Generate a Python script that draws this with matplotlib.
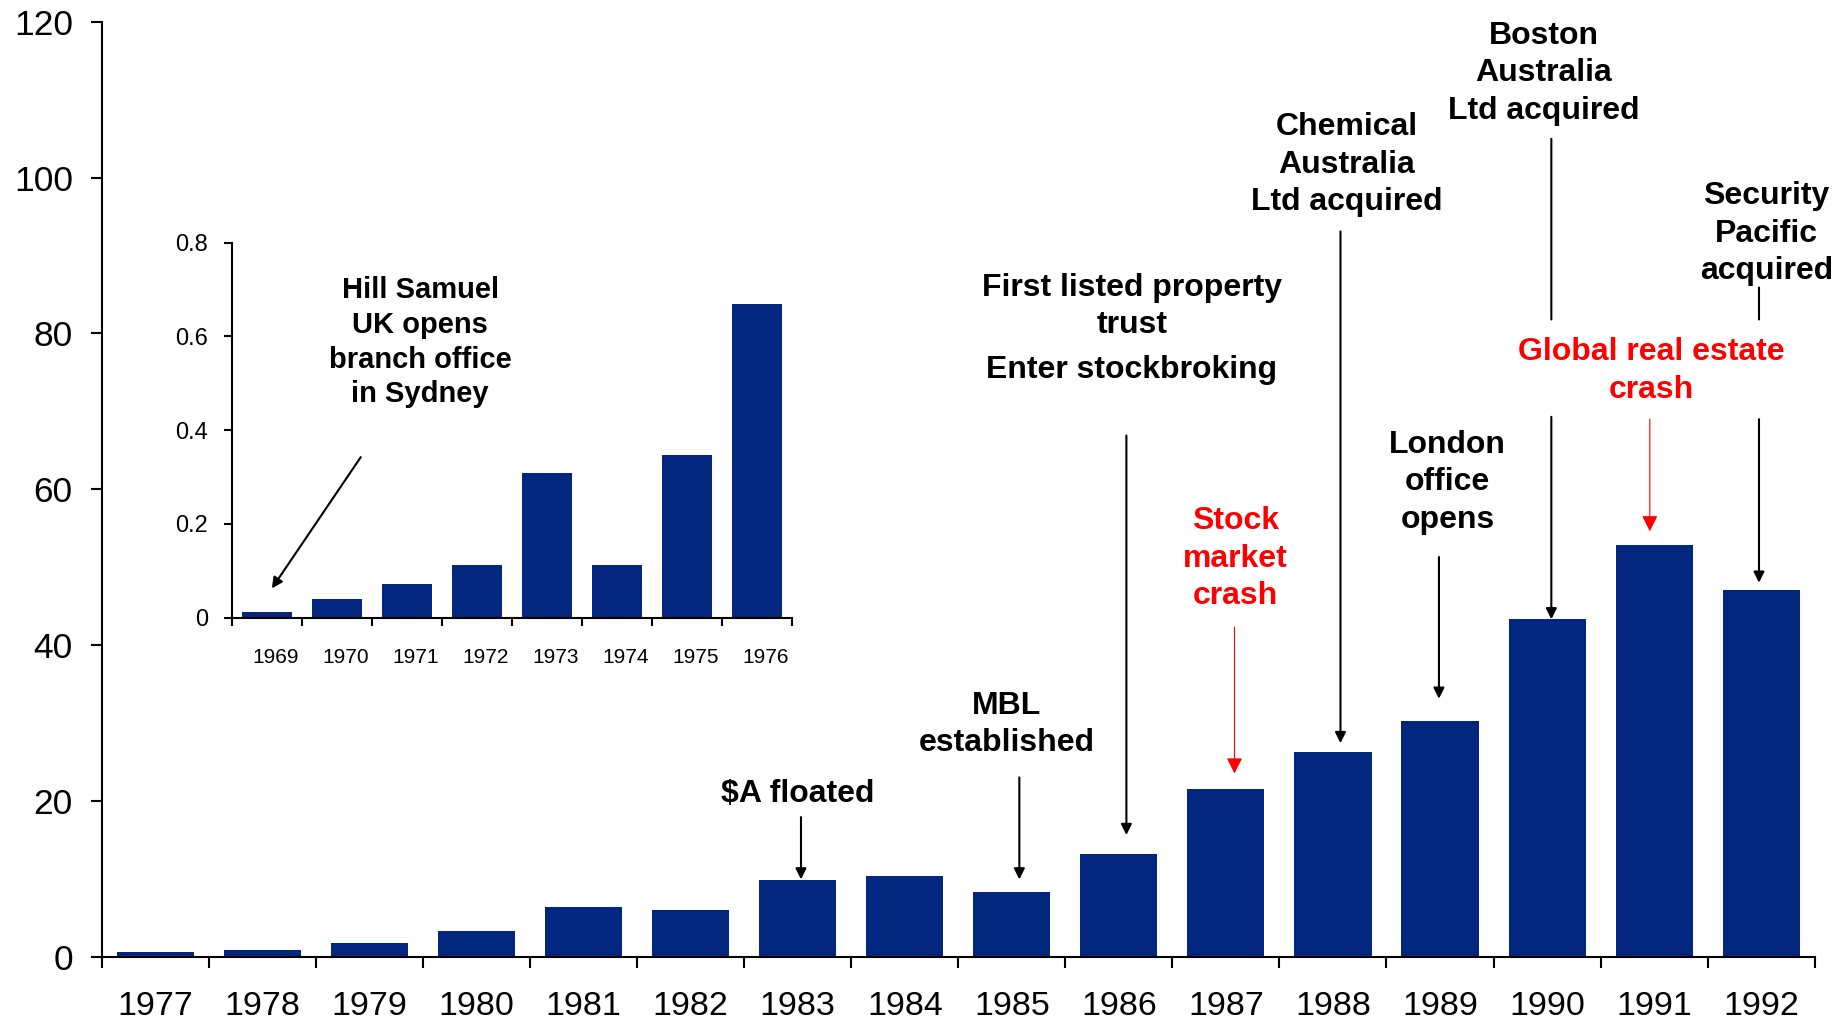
import numpy as np
import matplotlib
matplotlib.use('Agg')
import matplotlib.pyplot as plt
from matplotlib.ticker import FixedLocator, FuncFormatter

plt.rcParams['font.family'] = ['Liberation Sans', 'DejaVu Sans']

# ── Data ──────────────────────────────────────────────────────────────────────
years = ['1977', '1978', '1979', '1980', '1981', '1982', '1983', '1984',
         '1985', '1986', '1987', '1988', '1989', '1990', '1991', '1992']
values = [0.6, 0.9, 1.7, 3.3, 6.3, 6.0, 9.8, 10.4,
          8.3, 13.1, 21.5, 26.2, 30.2, 43.3, 52.8, 47.1]

inset_years = ['1969', '1970', '1971', '1972', '1973', '1974', '1975', '1976']
inset_values = [0.012, 0.04, 0.072, 0.112, 0.308, 0.112, 0.348, 0.67]

main_yticks = [0, 20, 40, 60, 80, 100, 120]
inset_yticks = [0, 0.2, 0.4, 0.6, 0.8]

BAR = '#03277E'
RED = '#FF0000'


def style_axes(ax, n, tick_len, xpad, ypad, xsize, ysize, label_shift=0.0):
    for side in ('top', 'right'):
        ax.spines[side].set_visible(False)
    for side in ('left', 'bottom'):
        ax.spines[side].set_linewidth(1.5)
        ax.spines[side].set_color('black')
    ax.set_xlim(-0.5, n - 0.5)
    # tick marks at category boundaries, labels (minor, no mark) at bar centres
    ax.xaxis.set_major_locator(FixedLocator(np.arange(n + 1) - 0.5))
    ax.xaxis.set_major_formatter(FuncFormatter(lambda v, p: ''))
    ax.xaxis.set_minor_locator(FixedLocator(np.arange(n) + label_shift))
    ax.tick_params(axis='x', which='major', direction='out', length=tick_len,
                   width=1.5, color='black')
    ax.tick_params(axis='x', which='minor', length=0, pad=xpad, labelsize=xsize)
    ax.tick_params(axis='y', direction='out', length=tick_len, width=1.5,
                   pad=ypad, labelsize=ysize)


# ── Figure ────────────────────────────────────────────────────────────────────
fig = plt.figure(figsize=(18.38, 10.18), dpi=100)
ax = fig.add_axes([0.0555, 0.0604, 0.9318, 0.918])

x = np.arange(len(years))
ax.bar(x, values, width=0.72, color=BAR, zorder=2)
style_axes(ax, len(years), 8, 24.5, 13, 24.5, 25.5)
ax.set_xticks(x, years, minor=True)
ax.set_ylim(0, 120)
ax.set_yticks(main_yticks)
ax.yaxis.set_major_formatter(FuncFormatter(lambda v, p: f'{v:g}'))

# ── Annotations on the main chart ────────────────────────────────────────────
txt = dict(ha='center', va='center', fontsize=23, fontweight='bold',
           linespacing=1.32, clip_on=False, zorder=3)
blk = dict(arrowstyle='-|>', color='black', lw=1.5, mutation_scale=16,
           shrinkA=0, shrinkB=0)
red = dict(arrowstyle='-|>', color=RED, lw=0.8, mutation_scale=24,
           shrinkA=0, shrinkB=0)
plain = dict(arrowstyle='-', color='black', lw=1.5, shrinkA=0, shrinkB=0)


def arrow(x0, y0, y1, props):
    ax.annotate('', xy=(x0, y1), xytext=(x0, y0), arrowprops=props,
                annotation_clip=False)


ax.text(6.0, 20.9, '$A floated', **txt)
arrow(6.03, 17.9, 9.9, blk)

ax.text(7.95, 29.8, 'MBL\nestablished', **txt)
arrow(8.07, 23.0, 9.9, blk)

ax.text(9.12, 83.5, 'First listed property\ntrust', **txt)
ax.text(9.12, 75.3, 'Enter stockbroking', **txt)
arrow(9.07, 66.9, 15.6, blk)

ax.text(10.09, 51.1, 'Stock\nmarket\ncrash', color=RED, **txt)
arrow(10.08, 42.3, 23.5, red)

ax.text(11.13, 101.7, 'Chemical\nAustralia\nLtd acquired', **txt)
arrow(11.07, 93.1, 27.4, blk)

ax.text(12.07, 60.9, 'London\noffice\nopens', **txt)
arrow(11.99, 51.3, 33.1, blk)

ax.text(12.97, 113.4, 'Boston\nAustralia\nLtd acquired', **txt)
arrow(13.04, 105.0, 81.8, plain)
arrow(13.04, 69.3, 43.3, blk)

ax.text(13.97, 75.2, 'Global real estate\ncrash', color=RED, **txt)
arrow(13.96, 69.0, 54.6, red)

ax.text(15.05, 92.8, 'Security\nPacific\nacquired', **txt)
arrow(14.98, 85.9, 81.8, plain)
arrow(14.98, 69.0, 48.0, blk)

# ── Inset: 1969-1976 ─────────────────────────────────────────────────────────
axi = fig.add_axes([0.1262, 0.3932, 0.3047, 0.3685])
axi.patch.set_alpha(0)
xi = np.arange(len(inset_years))
axi.bar(xi, inset_values, width=0.72, color=BAR, zorder=2)
style_axes(axi, len(inset_years), 6, 22, 11, 15, 17, label_shift=0.12)
axi.set_xticklabels(inset_years, minor=True)
axi.set_ylim(0, 0.8)
axi.set_yticks(inset_yticks)
axi.yaxis.set_major_formatter(FuncFormatter(lambda v, p: f'{v:g}'))

axi.text(2.19, 0.5875, 'Hill Samuel\nUK opens\nbranch office\nin Sydney',
         ha='center', va='center', fontsize=21, fontweight='bold',
         linespacing=1.31)
axi.annotate('', xy=(0.07, 0.0625), xytext=(1.34, 0.3425),
             arrowprops=dict(arrowstyle='-|>', color='black', lw=1.5,
                             mutation_scale=16, shrinkA=0, shrinkB=0))

fig.savefig('out.png', dpi=100)
